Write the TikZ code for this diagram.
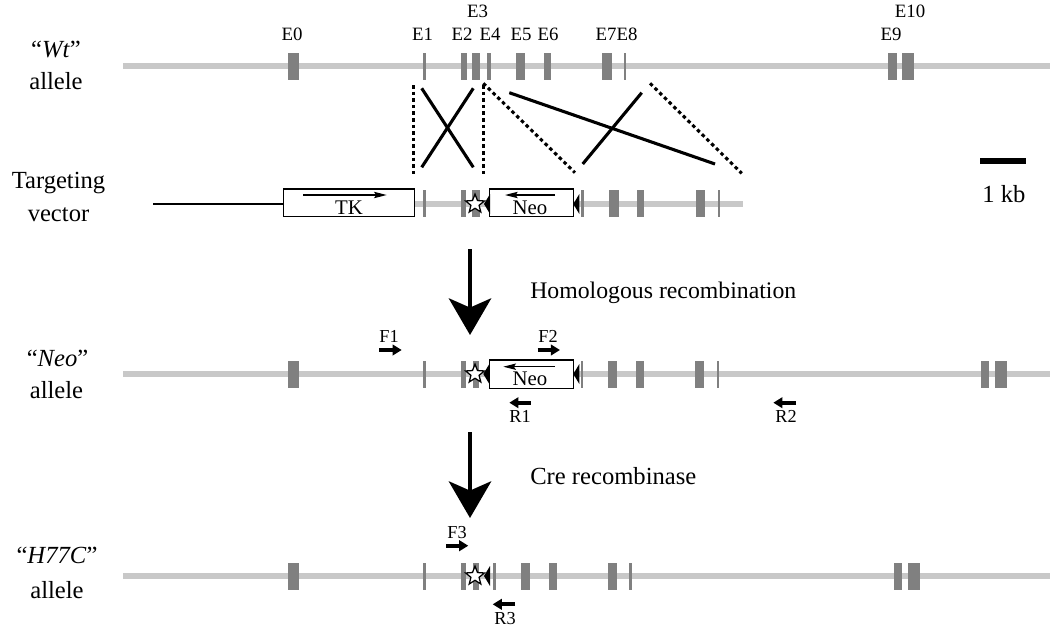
\documentclass[tikz,border=0pt]{standalone}
\usepackage{fontspec}
\setmainfont{Liberation Serif}
\usetikzlibrary{arrows.meta,shapes.geometric}
\definecolor{bbgray}{RGB}{200,200,200}
\definecolor{exgray}{RGB}{128,128,128}
\begin{document}
\begin{tikzpicture}[x=0.025cm,y=-0.025cm,
          dna/.style={bbgray,line width=4.7pt},
          exon/.style={fill=exgray},
          lbl/.style={inner sep=0pt,anchor=base,font=\fontsize{17.5}{21}\selectfont},
          exlbl/.style={inner sep=0pt,anchor=base,font=\fontsize{13.4}{16}\selectfont},
          prlbl/.style={inner sep=0pt,anchor=base,font=\fontsize{13}{15}\selectfont},
          boxlbl/.style={inner sep=0pt,anchor=base,font=\fontsize{14.8}{17}\selectfont},
          cassette/.style={draw,line width=0.9pt,fill=white},
          xover/.style={line width=2.2pt},
          homol/.style={line width=2.2pt,dash pattern=on 2.5pt off 2.2pt},
          primer/.style={line width=2.6pt,-{Triangle[length=6.5pt,width=7.5pt]}},
          orient/.style={line width=0.9pt,-{Stealth[length=9pt,width=4.5pt,inset=1.5pt]}},
          bigarrow/.style={line width=3.5pt,-{Stealth[length=26pt,width=30pt,inset=6.5pt]}},
          mut/.style={star,star points=5,star point ratio=2.3,draw,fill=white,line width=0.9pt,minimum size=14pt,inner sep=0pt}]
          \useasboundingbox (0,0) rectangle (1050,632);
          \node[lbl] (wt) at (56,57) {“\textit{Wt}”};
          \node[lbl] (wta) at (56,89) {allele};
          \node[lbl] (tv) at (58.5,188) {Targeting};
          \node[lbl] (tva) at (58.5,221) {vector};
          \node[lbl] (neo) at (57.5,366) {“\textit{Neo}”};
          \node[lbl] (neoa) at (56.5,398) {allele};
          \node[lbl] (hc) at (57,563) {“\textit{H77C}”};
          \node[lbl] (hca) at (57,598) {allele};
          \draw[dna] (123,66) -- (1050,66);
          \foreach \x/\w in {293.7/10.7,424.3/3.3,464/5.3,476/8,489/3.3,520.3/9.3,547.5/7.7,607/9.3,625.3/2,892.5/8.3,908.3/12}
            \fill[exon] ({\x-\w/2},52.5) rectangle ({\x+\w/2},79.5);
          \foreach \t/\x/\y in {E0/292/40,E1/422.5/40,E2/462/40,E3/477.5/17,E4/490/40,E5/521/40,E6/548/40,E7/606/40,E8/627/40,E9/891/40,E10/910/17}
            \node[exlbl] (lab\t) at (\x,\y) {\t};
          \draw[homol] (413.3,85) -- (413.3,175);
          \draw[homol] (483.3,85) -- (483.3,175);
          \draw[xover] (421.7,88.3) -- (473.3,167.3);
          \draw[xover] (473.3,88.3) -- (421.7,167.3);
          \draw[homol] (483.3,83.3) -- (575,172.7);
          \draw[xover] (509.3,92.7) -- (715,164);
          \draw[xover] (582.7,164) -- (641.7,92.7);
          \draw[homol] (650,83.3) -- (741.7,173.3);
          \draw[line width=1.1pt] (153,204) -- (283.3,204);
          \draw[dna] (414.3,204) -- (743,204);
          \draw[cassette] (283.3,189) rectangle (414.3,216.7);
          \foreach \x/\w in {424.3/3.3,463.7/4.7,476/8,582.3/3.3,614/10,640.5/7.7,700.3/9.3,719.2/1.7}
            \fill[exon] ({\x-\w/2},190) rectangle ({\x+\w/2},217);
          \draw[cassette] (489.3,189) rectangle (573.3,216.7);
          \draw[orient] (303,195) -- (386.7,195);
          \node[boxlbl] (tk) at (349,214) {TK};
          \draw[orient] (555,195) -- (505,195);
          \node[boxlbl] (neo1) at (530,214) {Neo};
          \node[mut] (st1) at (475,204) {};
          \draw[line width=4.3pt] (980,161) -- (1026,161);
          \node[lbl] (kb) at (1004,202) {1 kb};
          \coordinate (hr1) at (470,249);
          \coordinate (hr2) at (470,335);
          \draw[bigarrow] (hr1) -- (hr2);
          \node[lbl,anchor=base west,font=\fontsize{16.9}{20}\selectfont] (hrlab) at (530,298) {Homologous recombination};
          \draw[dna] (123,374) -- (1050,374);
          \foreach \x/\w in {293.7/10.7,424.3/3.3,463.5/5,476/6.7,582/2.7,612.8/9,640/8,699.7/9.3,718/1.4,985.2/8.3,1001.2/12.3}
            \fill[exon] ({\x-\w/2},360.5) rectangle ({\x+\w/2},387.5);
          \draw[cassette] (489.3,360) rectangle (573.3,388.3);
          \draw[orient] (555,366.7) -- (503.3,366.7);
          \node[boxlbl] (neo2) at (530,385) {Neo};
          \node[mut] (st2) at (475,374) {};
          \draw[primer] (379.3,350) -- (401.7,350);
          \node[prlbl] (f1) at (389,342) {F1};
          \draw[primer] (537.7,350) -- (560,350);
          \node[prlbl] (f2) at (548,342) {F2};
          \draw[primer] (530.7,402.7) -- (509.3,402.7);
          \node[prlbl] (r1) at (520,422) {R1};
          \draw[primer] (796,402.7) -- (773.3,402.7);
          \node[prlbl] (r2) at (786,422) {R2};
          \coordinate (cr1) at (470,432);
          \coordinate (cr2) at (470,518);
          \draw[bigarrow] (cr1) -- (cr2);
          \node[lbl,anchor=base west] (crlab) at (530,484) {Cre recombinase};
          \draw[dna] (123,576) -- (1050,576);
          \foreach \x/\w in {293.7/10.7,424.3/3.3,463.5/5,476/6.7,494.3/3.3,525.5/9,552.8/7.7,612.8/9,630.5/2.4,898/8.3,914/12}
            \fill[exon] ({\x-\w/2},562.5) rectangle ({\x+\w/2},589.5);
          \node[mut] (st3) at (475,576) {};
          \draw[primer] (446,545.7) -- (468.3,545.7);
          \node[prlbl] (f3) at (457,538) {F3};
          \draw[primer] (515,604.3) -- (492.7,604.3);
          \node[prlbl] (r3) at (505,624) {R3};
          \foreach \x/\y in {484/204,573.3/204,483.3/374,573.3/374,484/576}
            \fill (\x,\y) -- ++(6,-10) -- ++(0,20) -- cycle;
        \end{tikzpicture}
\end{document}
